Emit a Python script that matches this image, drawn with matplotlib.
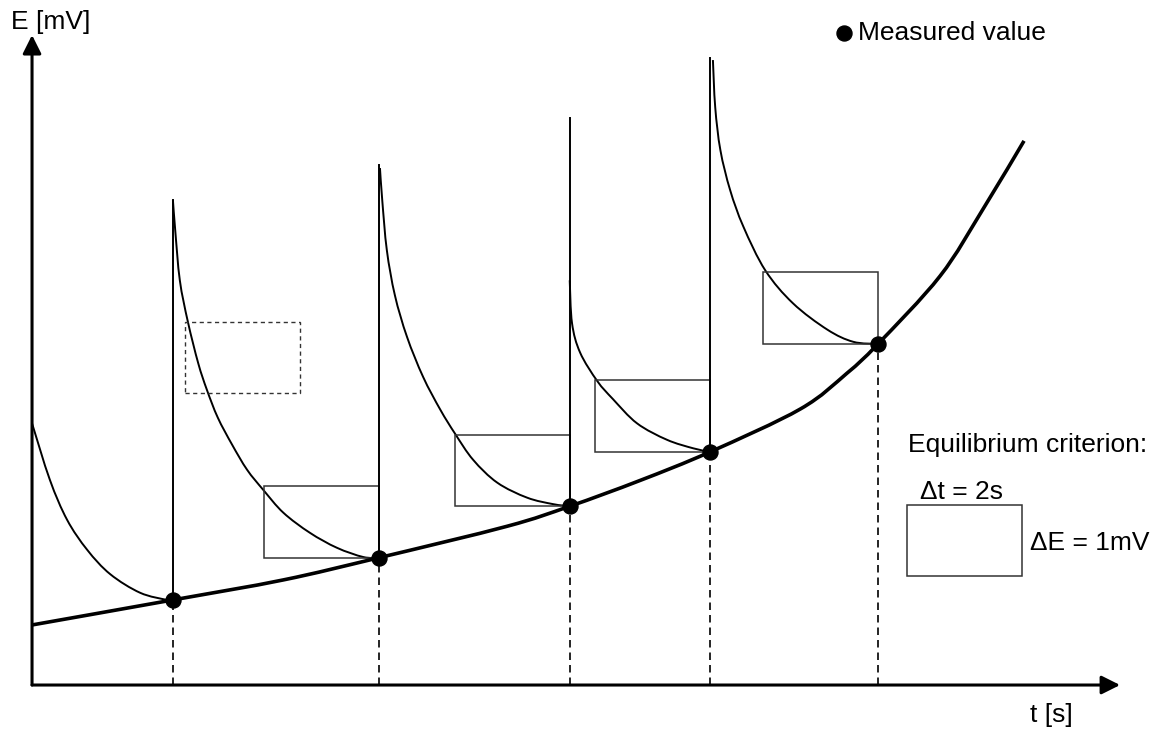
import matplotlib
matplotlib.use('Agg')
import matplotlib.pyplot as plt
import numpy as np
from matplotlib.path import Path
from matplotlib.patches import Rectangle, PathPatch

plt.rcParams['font.family'] = ['Liberation Sans', 'DejaVu Sans']

# measured equilibrium points (t in s, E in mV)
t_meas = [2.45, 6.03, 9.35, 11.79, 14.71]
E_meas = [1.19, 1.78, 2.50, 3.26, 4.77]

# top of the potential jump after each addition
E_spike = [6.78, 7.27, 7.93, 8.77]

# slow drift of the electrode potential
t_drift = [0, 2.45, 4.37, 6.03, 8.26, 9.35, 10.57, 11.79, 13.36, 14.17, 14.71, 15.79, 16.54, 17.25]
E_drift = [0.84, 1.19, 1.47, 1.78, 2.22, 2.50, 2.86, 3.26, 3.86, 4.36, 4.77, 5.72, 6.66, 7.61]

# relaxation after each jump
t_rel0 = [0, 0.31, 0.61, 0.96, 1.36, 1.88, 2.35, 2.45]
E_rel0 = [3.66, 2.87, 2.31, 1.89, 1.55, 1.29, 1.19, 1.19]
t_rel1 = [2.45, 2.49, 2.57, 2.71, 2.89, 3.04, 3.23, 3.48, 3.74, 4.02, 4.37, 4.83, 5.30, 5.76, 6.03]
E_rel1 = [6.78, 6.36, 5.66, 5.08, 4.50, 4.13, 3.74, 3.36, 3.01, 2.73, 2.41, 2.13, 1.92, 1.79, 1.78]
t_rel2 = [6.05, 6.09, 6.17, 6.31, 6.52, 6.80, 7.10, 7.36, 7.67, 8.09, 8.61, 9.06, 9.35]
E_rel2 = [7.23, 6.78, 6.08, 5.45, 4.87, 4.31, 3.85, 3.51, 3.15, 2.83, 2.62, 2.53, 2.50]
t_rel3 = [9.35, 9.39, 9.53, 9.83, 10.10, 10.52, 11.04, 11.50, 11.79]
E_rel3 = [5.66, 5.06, 4.65, 4.25, 4.00, 3.66, 3.43, 3.31, 3.26]
t_rel4 = [11.84, 11.88, 11.97, 12.14, 12.37, 12.75, 13.23, 13.83, 14.28, 14.71]
E_rel4 = [8.74, 8.08, 7.48, 6.92, 6.41, 5.80, 5.34, 4.97, 4.80, 4.77]

# equilibrium window
dt_win = 2.0
dE_win = 1.0


def smooth_path(xs, ys):
    # catmull-rom through the points, drawn as cubic bezier segments
    p = np.column_stack([xs, ys]).astype(float)
    ext = np.vstack([p[0], p, p[-1]])
    verts = [p[0]]
    codes = [Path.MOVETO]
    for i in range(len(p) - 1):
        p0, p1, p2, p3 = ext[i], ext[i + 1], ext[i + 2], ext[i + 3]
        verts += [p1 + (p2 - p0) / 6, p2 - (p3 - p1) / 6, p2]
        codes += [Path.CURVE4] * 3
    return Path(verts, codes)


fig = plt.figure(figsize=(11.54, 7.31), dpi=100)
ax = fig.add_axes([0, 0, 1, 1])
ax.set_xlim(-0.557, 19.51)
ax.set_ylim(-0.643, 9.58)
ax.axis('off')

# axes with arrow heads
arrow = dict(arrowstyle='-|>', lw=2.2, color='k', mutation_scale=28, shrinkA=0, shrinkB=0)
ax.annotate('', xy=(18.92, 0), xytext=(0, 0), arrowprops=arrow)
ax.annotate('', xy=(0, 9.09), xytext=(0, 0), arrowprops=arrow)
ax.text(-0.37, 9.27, 'E [mV]', fontsize=19, ha='left', va='center')
ax.text(17.36, -0.42, 't [s]', fontsize=19, ha='left', va='center')

# dashed drop lines to the time axis
for t, E in zip(t_meas, E_meas):
    ax.plot([t, t], [0, E], color='k', lw=1.2, dashes=(4.5, 3))

# potential jumps
for t, E, top in zip(t_meas[:-1], E_meas[:-1], E_spike):
    ax.plot([t, t], [E, top], color='k', lw=1.4)

for t, E in [(t_rel0, E_rel0), (t_rel1, E_rel1), (t_rel2, E_rel2), (t_rel3, E_rel3), (t_rel4, E_rel4)]:
    ax.add_patch(PathPatch(smooth_path(t, E), fill=False, ec='k', lw=1.4))

# window boxes ending at each accepted point
for t, E in zip(t_meas[1:], E_meas[1:]):
    ax.add_patch(Rectangle((t - dt_win, E), dt_win, dE_win, fill=False, ec='#333333', lw=1.1))

# window that is not yet satisfied
ax.add_patch(Rectangle((2.66, 4.08), dt_win, dE_win, fill=False, ec='#333333', lw=1.0, ls=(0, (3, 2.5))))

ax.add_patch(PathPatch(smooth_path(t_drift, E_drift), fill=False, ec='k', lw=2.6, capstyle='butt'))
ax.plot(t_meas, E_meas, 'o', color='k', ms=10.8, zorder=3)

# legend
ax.plot([14.12], [9.12], 'o', color='k', ms=10.8)
ax.text(14.37, 9.12, 'Measured value', fontsize=19, ha='left', va='center')
ax.text(15.23, 3.36, 'Equilibrium criterion:', fontsize=19, ha='left', va='center')
ax.add_patch(Rectangle((15.22, 1.52), dt_win, dE_win, fill=False, ec='#333333', lw=1.1))
ax.text(15.44, 2.70, '\u0394t = 2s', fontsize=19, ha='left', va='center')
ax.text(17.36, 1.99, '\u0394E = 1mV', fontsize=19, ha='left', va='center')

plt.savefig('out.png', dpi=100)
